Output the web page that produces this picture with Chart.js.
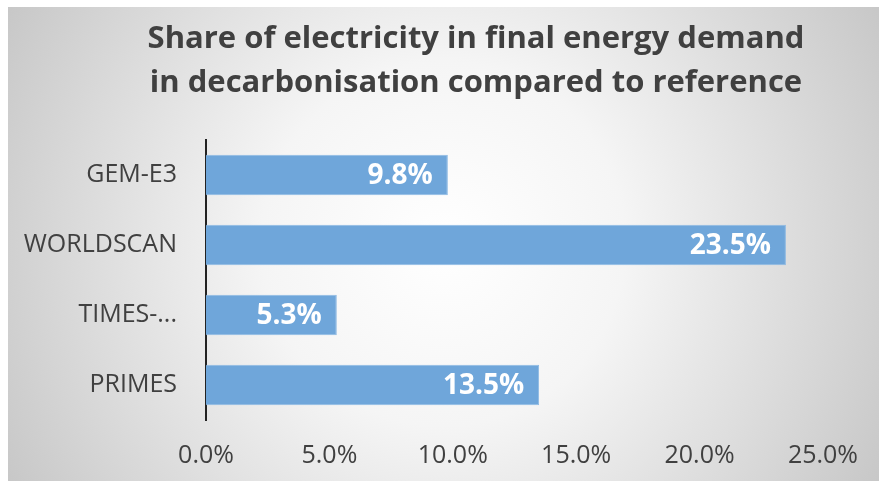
<!DOCTYPE html>
<html>
<head>
<meta charset="utf-8">
<title>Share of electricity in final energy demand</title>
<script src="https://cdn.jsdelivr.net/npm/chart.js@4"></script>
<style>
  html, body { margin: 0; padding: 0; background: #ffffff; }
  #wrap { position: absolute; left: 8px; top: 7px; width: 871px; height: 474px; }
</style>
</head>
<body>
<div id="wrap"><canvas id="barChart"></canvas></div>
<script>
  const models = ['GEM-E3', 'WORLDSCAN', 'TIMES-...', 'PRIMES'];
  const electricityShare = [9.8, 23.5, 5.3, 13.5];
  const xTicks = [0, 5, 10, 15, 20, 25];

  const titleLines = [
    'Share of electricity in final energy demand',
    'in decarbonisation compared to reference'
  ];

  // soft grey radial fill behind everything
  const backdrop = {
    id: 'backdrop',
    beforeDraw(chart) {
      const { ctx, width, height } = chart;
      const g = ctx.createRadialGradient(width / 2, height / 2, 0, width / 2, height / 2, 520);
      g.addColorStop(0, '#ffffff');
      g.addColorStop(0.35, '#f5f5f5');
      g.addColorStop(1, '#c4c4c4');
      ctx.save();
      ctx.fillStyle = g;
      ctx.fillRect(0, 0, width, height);
      ctx.restore();
    }
  };

  // two-line heading, centred a bit right of the canvas middle
  const heading = {
    id: 'heading',
    afterDraw(chart) {
      const { ctx } = chart;
      ctx.save();
      ctx.font = 'bold 31px "Open Sans"';
      ctx.fillStyle = '#404040';
      ctx.textAlign = 'center';
      ctx.textBaseline = 'alphabetic';
      ctx.fillText(titleLines[0], 468, 41);
      ctx.fillText(titleLines[1], 468, 85);
      ctx.restore();
    }
  };

  // value text inside the end of each bar
  const barValues = {
    id: 'barValues',
    afterDatasetsDraw(chart) {
      const { ctx } = chart;
      const meta = chart.getDatasetMeta(0);
      ctx.save();
      ctx.font = 'bold 28px "Open Sans"';
      ctx.fillStyle = '#ffffff';
      ctx.textAlign = 'right';
      ctx.textBaseline = 'middle';
      meta.data.forEach((bar, i) => {
        ctx.fillText(electricityShare[i].toFixed(1) + '%', bar.x - 15, bar.y + 1);
      });
      ctx.restore();
    }
  };

  const ctx = document.getElementById('barChart').getContext('2d');
  new Chart(ctx, {
    type: 'bar',
    data: {
      labels: models,
      datasets: [{
        data: electricityShare,
        backgroundColor: '#6fa6da',
        borderColor: '#8cb9e3',
        borderWidth: 1,
        categoryPercentage: 1,
        barPercentage: 0.58
      }]
    },
    options: {
      indexAxis: 'y',
      responsive: true,
      maintainAspectRatio: false,
      animation: false,
      layout: { padding: { left: 0, right: 55, top: 133, bottom: 0 } },
      plugins: {
        legend: { display: false },
        tooltip: { enabled: false },
        title: { display: false }
      },
      scales: {
        x: {
          min: 0,
          max: 25,
          afterBuildTicks(scale) {
            scale.ticks = xTicks.map(v => ({ value: v }));
          },
          afterFit(scale) { scale.height = 61; },
          grid: { display: false, drawTicks: false },
          border: { display: false },
          ticks: {
            color: '#404040',
            font: { family: 'Open Sans', size: 25 },
            padding: 21,
            maxRotation: 0,
            callback: v => v.toFixed(1) + '%'
          }
        },
        y: {
          afterFit(scale) { scale.width = 198; },
          grid: { display: false, drawTicks: false },
          border: { display: true, color: '#222222', width: 2 },
          ticks: {
            color: '#404040',
            font: { family: 'Open Sans', size: 25 },
            padding: 29
          }
        }
      }
    },
    plugins: [backdrop, barValues, heading]
  });
</script>
</body>
</html>
